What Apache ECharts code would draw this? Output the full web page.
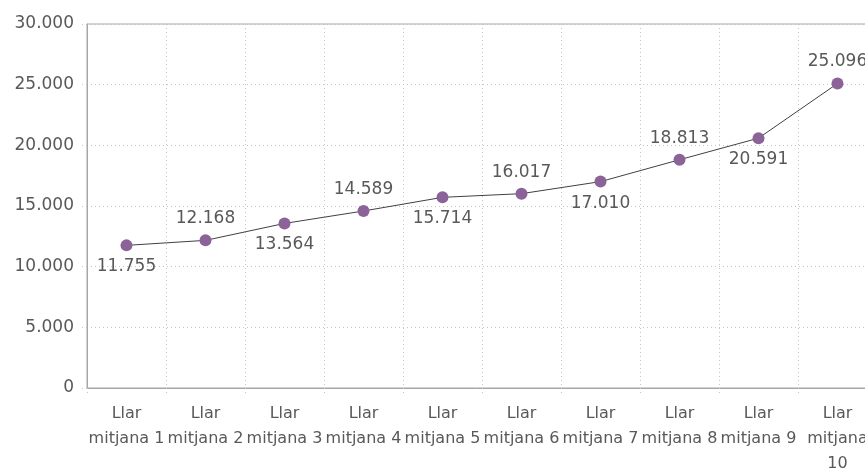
<!DOCTYPE html>
<html>
<head>
<meta charset="utf-8">
<script src="https://cdn.jsdelivr.net/npm/echarts@6/dist/echarts.min.js"></script>
<style>
  html, body { margin: 0; padding: 0; background: #fff; }
  #chart { width: 865px; height: 468px; }
</style>
</head>
<body>
<div id="chart"></div>
<script>
// dades
var categories = ['Llar\nmitjana 1', 'Llar\nmitjana 2', 'Llar\nmitjana 3', 'Llar\nmitjana 4', 'Llar\nmitjana 5',
                  'Llar\nmitjana 6', 'Llar\nmitjana 7', 'Llar\nmitjana 8', 'Llar\nmitjana 9', 'Llar\nmitjana\n10'];
var values = [11755, 12168, 13564, 14589, 15714, 16017, 17010, 18813, 20591, 25096];
var labelPos = ['bottom', 'top', 'bottom', 'top', 'bottom', 'top', 'bottom', 'top', 'bottom', 'top'];
var yTicks = [0, 5000, 10000, 15000, 20000, 25000, 30000];

var font = "'Century Gothic', 'DejaVu Sans', sans-serif";
var textColor = '#595959';
var dotted = { color: '#c4c4c4', type: [1, 3], width: 1 };

function fmt(v) {
    return String(v).replace(/\B(?=(\d{3})+(?!\d))/g, '.');
}

var chart = echarts.init(document.getElementById('chart'));

var option = {
    animation: false,
    grid: {
        left: 87,
        top: 24,
        width: 790,
        height: 364,
        outerBoundsMode: 'none',
        containLabel: false,
        show: true,
        borderColor: '#a6a6a6',
        borderWidth: 1
    },
    xAxis: {
        type: 'category',
        data: categories,
        boundaryGap: true,
        axisLine: { lineStyle: { color: '#a6a6a6' } },
        axisTick: { show: true, length: 7, lineStyle: dotted },
        splitLine: { show: true, lineStyle: dotted },
        axisLabel: {
            interval: 0,
            margin: 13,
            color: textColor,
            fontFamily: font,
            fontSize: 16,
            lineHeight: 25
        }
    },
    yAxis: {
        type: 'value',
        min: yTicks[0],
        max: yTicks[yTicks.length - 1],
        interval: 5000,
        axisLine: { show: true, lineStyle: { color: '#a6a6a6' } },
        axisTick: { show: true, length: 6, lineStyle: dotted },
        splitLine: { show: true, lineStyle: dotted },
        axisLabel: {
            margin: 13,
            color: textColor,
            fontFamily: font,
            fontSize: 17,
            formatter: function (v) { return fmt(v); }
        }
    },
    series: [{
        type: 'line',
        data: values.map(function (v, i) {
            return { value: v, label: { position: labelPos[i] } };
        }),
        symbol: 'circle',
        symbolSize: 12,
        itemStyle: { color: '#8c6399' },
        lineStyle: { color: '#404040', width: 1 },
        label: {
            show: true,
            distance: 7,
            color: textColor,
            fontFamily: font,
            fontSize: 17,
            formatter: function (p) { return fmt(p.value); }
        }
    }]
};

chart.setOption(option);
</script>
</body>
</html>
